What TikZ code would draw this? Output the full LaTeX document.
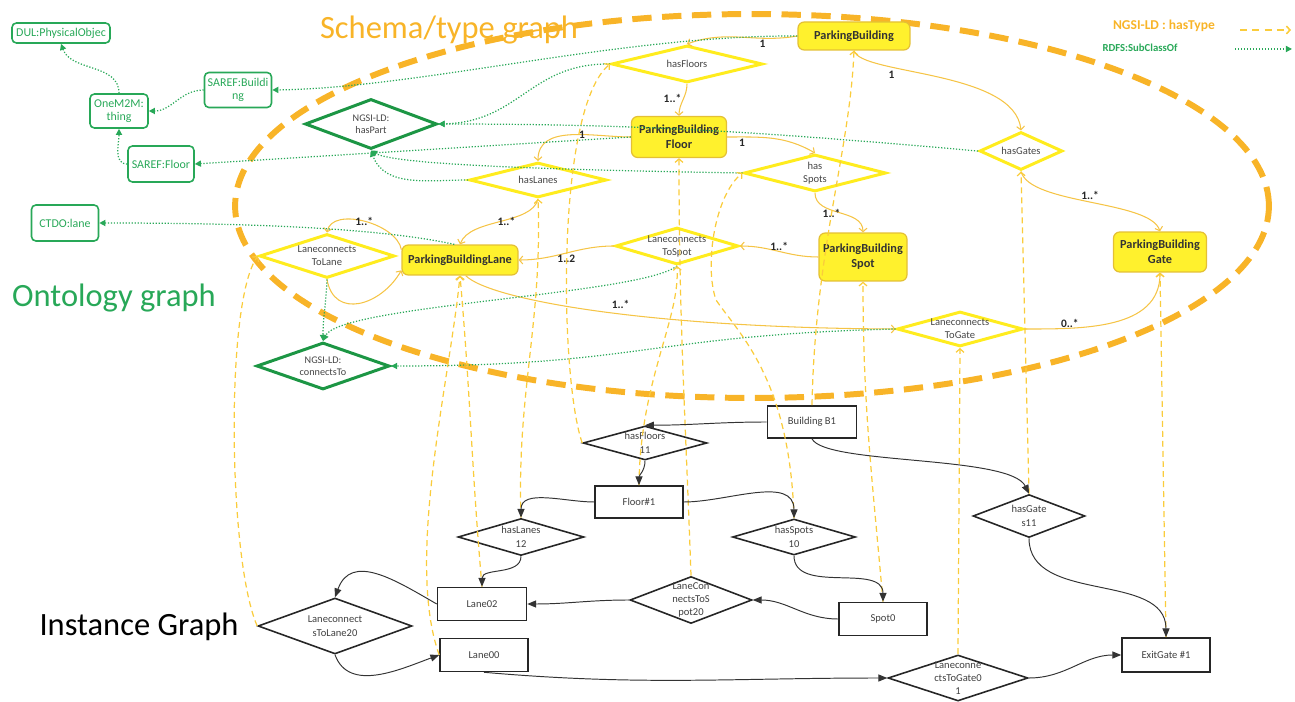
\documentclass[tikz,border=0pt]{standalone}
\usepackage{fontspec}
\setmainfont{Carlito}
\usetikzlibrary{shapes.geometric,arrows.meta}

\definecolor{ontgreen}{RGB}{40,168,88}
\definecolor{ontdark}{RGB}{28,150,68}
\definecolor{ellorange}{RGB}{248,180,40}
\definecolor{relgold}{RGB}{245,196,70}
\definecolor{typegold}{RGB}{250,204,60}
\definecolor{clsfill}{RGB}{255,241,45}
\definecolor{clsdraw}{RGB}{228,192,52}
\definecolor{propdraw}{RGB}{255,236,30}
\definecolor{txtgray}{RGB}{70,70,70}

\tikzset{
  sz/.style 2 args={minimum width=#1cm, minimum height=#2cm},
  onto/.style={draw=ontgreen, line width=0.9pt, rounded corners=2.5pt, text=ontgreen, font=\fontsize{6.8}{7.6}\selectfont, align=center, inner sep=0pt},
  ontoprop/.style={diamond, aspect=4, inner sep=-4pt, draw=ontdark, fill=white, line width=1.7pt, text=txtgray, font=\fontsize{5.8}{7}\selectfont, align=center},
  cls/.style={draw=clsdraw, fill=clsfill, line width=0.7pt, rounded corners=3.5pt, text=black!80, font=\bfseries\fontsize{7}{8.6}\selectfont, align=center, inner sep=0pt},
  prop/.style={diamond, aspect=4, inner sep=-4pt, draw=propdraw, fill=white, line width=1.7pt, text=txtgray, font=\fontsize{6}{7.4}\selectfont, align=center},
  inst/.style={draw=black!85, fill=white, line width=0.9pt, text=black!75, font=\fontsize{6}{7}\selectfont, inner sep=0pt},
  instprop/.style={diamond, aspect=4, inner sep=-4pt, draw=black!85, fill=white, line width=0.9pt, text=black!75, font=\fontsize{6}{7.6}\selectfont, align=center},
  rel/.style={draw=relgold, line width=0.6pt, -{Straight Barb[length=2pt,width=4.5pt]}},
  subcls/.style={draw=ontgreen, line width=0.7pt, densely dotted, -{Triangle[length=3.5pt,width=3.5pt]}},
  hastype/.style={draw=typegold, line width=0.7pt, dash pattern=on 3.4pt off 2.3pt, -{Straight Barb[length=2pt,width=4.5pt]}},
  irel/.style={draw=black!80, line width=0.55pt, -{Triangle[length=5pt,width=4pt]}},
  card/.style={font=\bfseries\fontsize{6.5}{7.4}\selectfont, text=black!85, inner sep=1pt},
  heading/.style={font=\fontsize{18.5}{20}\selectfont, inner sep=0pt}
}

\begin{document}
\begin{tikzpicture}[x=0.02cm, y=0.02cm]
    \useasboundingbox (0,0) rectangle (1295,-702);

    \draw[ellorange, line width=3.4pt, dash pattern=on 11pt off 6pt] (752,-206) ellipse [x radius=10.34cm, y radius=3.84cm];

    \node[heading, text=ellorange] (schematitle) at (449,-30) {Schema/type graph};
    \node[heading, text=ontgreen] (ontotitle) at (114,-298) {Ontology graph};
    \node[heading, text=black] (insttitle) at (139,-627) {Instance Graph};

    \node[font=\bfseries\fontsize{7.7}{9}\selectfont, text=ellorange, inner sep=0pt] (legtype) at (1164,-26) {NGSI-LD : hasType};
    \node[font=\bfseries\fontsize{6.1}{7}\selectfont, text=ontgreen, inner sep=0pt] (legsub) at (1140,-48) {RDFS:SubClassOf};
    \coordinate (lt1) at (1240,-30);
    \coordinate (lt2) at (1291,-30);
    \coordinate (ls1) at (1235,-49);
    \coordinate (ls2) at (1292,-49);

    \node[onto, sz={1.96}{0.40}] (dul) at (61,-33) {DUL:PhysicalObjec};
    \node[onto, sz={1.16}{0.68}] (thing) at (119,-111) {OneM2M:\\thing};
    \node[onto, sz={1.34}{0.70}] (sarefb) at (238,-90) {SAREF:Buildi\\ng};
    \node[onto, sz={1.32}{0.72}] (sareff) at (161,-164) {SAREF:Floor};
    \node[onto, sz={1.34}{0.72}] (ctdo) at (65,-223) {CTDO:lane};
    \node[ontoprop, sz={2.64}{1.00}] (haspart) at (371,-124) {NGSI-LD:\\hasPart};
    \node[ontoprop, sz={2.66}{0.94}] (connto) at (323,-366) {NGSI-LD:\\connectsTo};

    \node[cls, sz={2.24}{0.56}] (pb) at (854,-36) {ParkingBuilding};
    \node[cls, sz={1.90}{0.82}] (pbfloor) at (679,-137) {ParkingBuilding\\Floor};
    \node[cls, sz={2.32}{0.60}] (pblane) at (460,-260) {ParkingBuildingLane};
    \node[cls, sz={1.76}{0.96}] (pbspot) at (863,-257) {ParkingBuilding\\Spot};
    \node[cls, sz={1.86}{0.80}] (pbgate) at (1160,-252) {ParkingBuilding\\Gate};

    \node[prop, sz={3.02}{0.74}] (hasfloors) at (687,-64) {hasFloors};
    \node[prop, sz={2.74}{0.70}] (haslanes) at (538,-180) {hasLanes};
    \node[prop, sz={2.84}{0.74}] (hasspots) at (815,-173) {has\\Spots};
    \node[prop, sz={1.66}{0.76}] (hasgates) at (1021,-151) {hasGates};
    \node[prop, sz={2.70}{0.88}] (lctl) at (327,-256) {Laneconnects\\ToLane};
    \node[prop, sz={2.46}{0.74}] (lcts) at (677,-246) {Laneconnects\\ToSpot};
    \node[prop, sz={2.52}{0.70}] (lctg) at (960,-329) {Laneconnects\\ToGate};

    \node[inst, sz={1.78}{0.64}] (b1) at (812,-422) {Building B1};
    \node[inst, sz={1.76}{0.64}] (floor1) at (639,-502) {Floor\#1};
    \node[inst, sz={1.78}{0.66}] (lane02) at (482,-604) {Lane02};
    \node[inst, sz={1.76}{0.66}] (lane00) at (484,-655) {Lane00};
    \node[inst, sz={1.76}{0.66}] (spot0) at (883,-619) {Spot0};
    \node[inst, sz={1.76}{0.68}] (exitgate) at (1166,-655) {ExitGate \#1};

    \node[instprop, sz={2.48}{0.68}] (ihf) at (645,-443) {hasFloors\\11};
    \node[instprop, sz={2.52}{0.74}] (ihl) at (521,-537) {hasLanes\\12};
    \node[instprop, sz={2.46}{0.72}] (ihs) at (794,-537) {hasSpots\\10};
    \node[instprop, sz={2.44}{0.94}] (ilcts) at (691,-600) {LaneCon\\nectsToS\\pot20};
    \node[instprop, sz={3.08}{1.12}] (ilctl) at (335,-626) {Laneconnect\\sToLane20};
    \node[instprop, sz={2.24}{0.86}] (ihg) at (1029,-516) {hasGate\\s11};
    \node[instprop, sz={2.80}{0.92}] (ilctg) at (958,-678) {Laneconne\\ctsToGate0\\1};

    \draw[hastype, line width=0.9pt, dash pattern=on 4pt off 3pt] (lt1) -- (lt2);
    \draw[subcls] (ls1) -- (ls2);

    \draw[rel] (pb.west) to[out=190,in=20] node[card,pos=0.3,below] (m1) {1} (hasfloors.north);
    \draw[rel] (hasfloors.south) to[out=-90,in=90] node[card,pos=0.45,left] (m2) {1..*} (pbfloor.north);
    \draw[rel] (pbfloor.west) to[out=180,in=90] node[card,pos=0.4] (m3) {1} (haslanes.north);
    \draw[rel] (pbfloor.east) to[out=0,in=150] node[card,pos=0.15,below] (m4) {1} (hasspots.north);
    \draw[rel] (hasspots.south) to[out=-90,in=90] node[card,pos=0.55,left] (m5) {1..*} (pbspot.north);
    \draw[rel] (haslanes.south) .. controls (532,-225) and (470,-218) .. node[card,pos=0.35,below left=-1pt] (m6) {1..*} (pblane.north);
    \draw[rel] (pb.south) .. controls (860,-75) and (1015,-70) .. node[card,pos=0.3,below=1pt] (m7) {1} (hasgates.north);
    \draw[rel] (hasgates.south) .. controls (1030,-205) and (1150,-200) .. node[card,pos=0.5,above] (m8) {1..*} (pbgate.north);
    \draw[rel] (pbspot.west) to[out=180,in=0] node[card,pos=0.5,above=-1pt] (m9) {1..*} (lcts.east);
    \draw[rel] (lcts.west) to[out=180,in=0] node[card,pos=0.5,below] (m10) {1..2} (pblane.east);
    \draw[rel] (pblane.170) to[out=100,in=80,looseness=0.9] node[card,pos=0.5] (m11) {1..*} (lctl.north);
    \draw[rel] (lctl.south) to[out=-80,in=-120,looseness=1.4] (pblane.190);
    \draw[rel] (pblane.290) .. controls (490,-300) and (650,-328) .. node[card,pos=0.55,above=2pt] (m12) {1..*} (lctg.west);
    \draw[rel] (lctg.east) to[out=0,in=-90] node[card,pos=0.25,above=-1pt] (m13) {0..*} (pbgate.south);

    \draw[subcls] (thing.north) to[out=90,in=-70] (dul.south);
    \draw[subcls] (sarefb.west) to[out=180,in=0] (thing.east);
    \draw[subcls] (sareff.west) to[out=180,in=-90] (thing.south);
    \draw[subcls] (pb.west) .. controls (620,-35) and (420,-88) .. (sarefb.east);
    \draw[subcls] (hasfloors.west) .. controls (530,-63) and (520,-122) .. (haspart.east);
    \draw[subcls] (pbfloor.west) -- (sareff.east);
    \draw[subcls] (haslanes.west) to[out=180,in=-70] (haspart.south);
    \draw[subcls] (hasspots.west) .. controls (560,-170) and (395,-165) .. (haspart.south);
    \draw[subcls] (hasgates.west) to[out=175,in=0] (haspart.east);
    \draw[subcls] (pblane.110) .. controls (380,-228) and (250,-223) .. (ctdo.east);
    \draw[subcls] (lctl.south) to[out=-92,in=90] (connto.north);
    \draw[subcls] (lcts.south) .. controls (640,-295) and (340,-305) .. (connto.north);
    \draw[subcls] (lctg.west) .. controls (650,-335) and (640,-366) .. (connto.east);

    \draw[hastype] (b1.north) .. controls (815,-250) and (850,-150) .. (pb.south);
    \draw[hastype] (ihf.west) .. controls (560,-380) and (555,-110) .. (hasfloors.west);
    \draw[hastype] (ihl.north) to[out=92,in=-88] (haslanes.south);
    \draw[hastype] (floor1.north) .. controls (640,-380) and (680,-320) .. (lcts.south);
    \draw[hastype] (ilcts.north) to[out=92,in=-90] (pbfloor.south);
    \draw[hastype] (ihs.north) .. controls (790,-380) and (740,-335) .. (716,-300) .. controls (704,-265) and (715,-195) .. (hasspots.west);
    \draw[hastype] (spot0.north) to[out=95,in=-90] (pbspot.south);
    \draw[hastype] (lane02.north) to[out=95,in=-85] (pblane.south);
    \draw[hastype] (lane00.west) .. controls (405,-560) and (450,-380) .. (pblane.south);
    \draw[hastype] (ilctl.west) .. controls (228,-560) and (225,-300) .. (lctl.west);
    \draw[hastype] (ihg.north) -- (hasgates.south);
    \draw[hastype] (ilctg.north) -- (lctg.south);
    \draw[hastype] (exitgate.north) -- (pbgate.south);

    \draw[irel] (b1.west) to[out=180,in=0] (ihf.north);
    \draw[irel] (ihf.south) to[out=-90,in=90] (floor1.north);
    \draw[irel] (floor1.west) to[out=180,in=90] (ihl.north);
    \draw[irel] (floor1.east) to[out=0,in=90] (ihs.north);
    \draw[irel] (ihl.south) to[out=-90,in=90] (lane02.north);
    \draw[irel] (ihs.south) to[out=-90,in=90] (spot0.north);
    \draw[irel] (spot0.west) to[out=180,in=0] (ilcts.east);
    \draw[irel] (ilcts.west) to[out=180,in=0] (lane02.east);
    \draw[irel] (b1.south) .. controls (825,-465) and (1010,-455) .. (ihg.north);
    \draw[irel] (ihg.south) to[out=-90,in=90] (exitgate.north);
    \draw[irel] (lane02.west) to[out=150,in=70,looseness=1.2] (ilctl.north);
    \draw[irel] (ilctl.south) to[out=-70,in=200] (lane00.west);
    \draw[irel] (lane00.south) to[out=-5,in=180] (ilctg.west);
    \draw[irel] (ilctg.east) to[out=0,in=180] (exitgate.west);
\end{tikzpicture}
\end{document}
